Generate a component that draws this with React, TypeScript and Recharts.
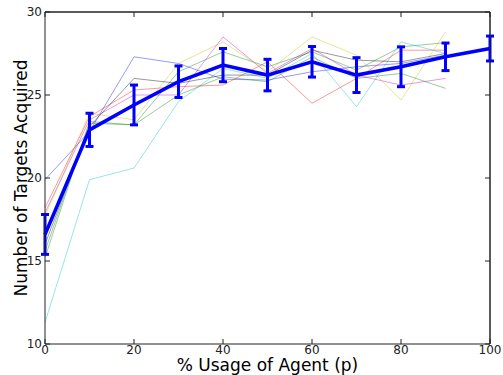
import React from "react";
import { LineChart, Line, XAxis, YAxis, ErrorBar, Label, ReferenceLine } from "recharts";

// % usage of agent (p)
const usage = [0, 10, 20, 30, 40, 50, 60, 70, 80, 90, 100];

// individual runs (thin, faded), 0..90
const runBlue = [19.9, 22.8, 27.3, 26.9, 25.95, 25.9, 26.4, 26.7, 26.9, 27.4];
const runGreen = [15.2, 23.4, 23.2, 26.4, 27.6, 26.7, 27.6, 26.5, 27.9, 28.15];
const runRed = [18.2, 23.7, 25.3, 25.5, 25.6, 27.0, 24.5, 26.0, 27.7, 27.7];
const runCyan = [11.3, 19.9, 20.6, 24.6, 26.6, 26.0, 27.5, 24.3, 28.2, 27.5];
const runMagenta = [17.9, 23.5, 25.0, 25.0, 28.5, 26.3, 27.8, 26.2, 25.6, 26.0];
const runYellow = [17.7, 23.9, 23.5, 26.9, 28.2, 26.4, 28.5, 27.4, 24.7, 28.8];
const runBlack = [16.0, 23.1, 26.0, 25.7, 26.2, 26.2, 27.7, 27.1, 27.0, 27.5];
const runGreen2 = [15.6, 23.3, 23.2, 25.0, 26.1, 25.8, 27.3, 26.0, 26.3, 25.4];

// mean with error bars
const meanTargets = [16.6, 22.9, 24.4, 25.8, 26.8, 26.2, 27.0, 26.2, 26.7, 27.3, 27.8];
const meanErr = [1.2, 1.0, 1.2, 0.95, 1.0, 0.95, 0.92, 1.05, 1.2, 0.83, 0.75];

const xTicks = [0, 20, 40, 60, 80, 100];
const yTicks = [10, 15, 20, 25, 30];

const runs = [
  { key: "b", values: runBlue, color: "#0000ff" },
  { key: "g", values: runGreen, color: "#008000" },
  { key: "r", values: runRed, color: "#ff0000" },
  { key: "c", values: runCyan, color: "#00bfbf" },
  { key: "m", values: runMagenta, color: "#bf00bf" },
  { key: "y", values: runYellow, color: "#bfbf00" },
  { key: "k", values: runBlack, color: "#000000" },
  { key: "g2", values: runGreen2, color: "#008000" },
];

const data = usage.map((p, i) => {
  const row: Record<string, number | undefined> = {
    p,
    mean: meanTargets[i],
    err: meanErr[i],
  };
  runs.forEach((r) => {
    row[r.key] = r.values[i];
  });
  return row;
});

const FONT = "'DejaVu Sans', sans-serif";
const AXIS = "#222";
const noTick = () => <g />;

export default function App() {
  return (
    <div style={{ position: "absolute", left: 0, top: 0, fontFamily: FONT }}>
      <LineChart
        width={503}
        height={375}
        data={data}
        margin={{ top: 11, right: 12, bottom: 0, left: 0 }}
      >
        <XAxis
          dataKey="p"
          type="number"
          domain={[0, 100]}
          ticks={xTicks}
          height={31}
          stroke={AXIS}
          tickSize={-5}
          tickMargin={6}
          tick={{ fill: "#222", fontSize: 12, fontFamily: FONT }}
        >
          <Label
            value="% Usage of Agent (p)"
            position="insideBottom"
            offset={4}
            style={{ fontSize: 17, fill: "#000", fontFamily: FONT }}
          />
        </XAxis>
        <XAxis
          xAxisId="top"
          orientation="top"
          dataKey="p"
          type="number"
          domain={[0, 100]}
          ticks={xTicks}
          height={1}
          stroke={AXIS}
          tickSize={-5}
          tick={noTick}
        />
        <YAxis
          type="number"
          domain={[10, 30]}
          ticks={yTicks}
          width={45}
          stroke={AXIS}
          tickSize={-5}
          tickMargin={8}
          tick={{ fill: "#222", fontSize: 12, fontFamily: FONT }}
        >
          <Label
            value="Number of Targets Acquired"
            angle={-90}
            position="insideLeft"
            offset={21}
            style={{ fontSize: 17, fill: "#000", fontFamily: FONT, textAnchor: "middle" }}
          />
        </YAxis>
        <YAxis
          yAxisId="right"
          orientation="right"
          type="number"
          domain={[10, 30]}
          ticks={yTicks}
          width={1}
          stroke={AXIS}
          tickSize={-5}
          tick={noTick}
        />
        {/* invisible series so the top/right frame axes are drawn */}
        <Line
          xAxisId="top"
          yAxisId="right"
          dataKey="mean"
          stroke="none"
          dot={false}
          activeDot={false}
          isAnimationActive={false}
        />
        <ReferenceLine y={30} stroke={AXIS} ifOverflow="visible" />
        <ReferenceLine x={100} stroke={AXIS} ifOverflow="visible" />
        {runs.map((r) => (
          <Line
            key={r.key}
            dataKey={r.key}
            stroke={r.color}
            strokeOpacity={0.4}
            strokeWidth={1}
            dot={false}
            isAnimationActive={false}
          />
        ))}
        <Line
          dataKey="mean"
          stroke="#0000ff"
          strokeWidth={3.5}
          dot={false}
          isAnimationActive={false}
        >
          <ErrorBar dataKey="err" stroke="#0000ff" strokeWidth={3} width={4} />
        </Line>
      </LineChart>
    </div>
  );
}
